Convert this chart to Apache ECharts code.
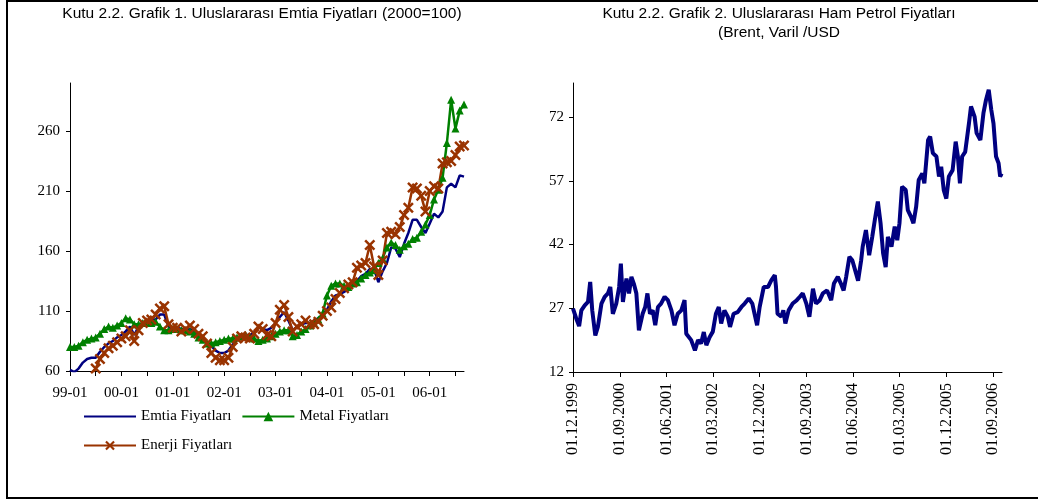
<!DOCTYPE html>
<html>
<head>
<meta charset="utf-8">
<title>Kutu 2.2</title>
<script src="https://cdn.jsdelivr.net/npm/echarts@6/dist/echarts.min.js"></script>
<style>
  html, body { margin: 0; padding: 0; background: #fff; }
  #chart { width: 1038px; height: 501px; }
</style>
</head>
<body>
<div id="chart"></div>
<script>
// Grafik 1: aylik endeksler (2000=100), 1999-01 .. 2006-09
const months = [
  '1999-01','1999-02','1999-03','1999-04','1999-05','1999-06','1999-07','1999-08','1999-09','1999-10','1999-11','1999-12',
  '2000-01','2000-02','2000-03','2000-04','2000-05','2000-06','2000-07','2000-08','2000-09','2000-10','2000-11','2000-12',
  '2001-01','2001-02','2001-03','2001-04','2001-05','2001-06','2001-07','2001-08','2001-09','2001-10','2001-11','2001-12',
  '2002-01','2002-02','2002-03','2002-04','2002-05','2002-06','2002-07','2002-08','2002-09','2002-10','2002-11','2002-12',
  '2003-01','2003-02','2003-03','2003-04','2003-05','2003-06','2003-07','2003-08','2003-09','2003-10','2003-11','2003-12',
  '2004-01','2004-02','2004-03','2004-04','2004-05','2004-06','2004-07','2004-08','2004-09','2004-10','2004-11','2004-12',
  '2005-01','2005-02','2005-03','2005-04','2005-05','2005-06','2005-07','2005-08','2005-09','2005-10','2005-11','2005-12',
  '2006-01','2006-02','2006-03','2006-04','2006-05','2006-06','2006-07','2006-08','2006-09'
]
const emtia = [
  61, 59, 62, 67, 70, 71, 71, 76, 80, 83,
  85, 88, 90, 93, 97, 90, 97, 100, 102, 103,
  103, 107, 107, 97, 95, 96, 95, 94, 95, 93,
  90, 87, 84, 81, 77, 75, 75, 77, 82, 86,
  88, 90, 90, 92, 97, 95, 94, 96, 100, 105,
  109, 102, 94, 97, 99, 100, 100, 102, 104, 107,
  111, 118, 123, 124, 126, 128, 133, 135, 139, 141,
  145, 145, 134, 143, 150, 163, 162, 155, 166, 175,
  186, 186, 180, 175, 183, 191, 188, 193, 213, 216,
  213, 223, 222
]
const metal = [
  80, 80, 81, 84, 86, 87, 88, 91, 95, 97,
  96, 98, 100, 104, 103, 99, 99, 100, 100, 100,
  101, 97, 94, 94, 95, 95, 94, 94, 93, 91,
  88, 86, 83, 83, 84, 85, 86, 87, 87, 88,
  89, 90, 88, 87, 85, 86, 87, 89, 91, 93,
  94, 94, 89, 90, 93, 95, 98, 100, 103, 108,
  123, 131, 133, 133, 131, 130, 133, 134, 137, 140,
  142, 144, 150, 154, 163, 167, 165, 161, 164, 166,
  170, 171, 176, 182, 190, 203, 211, 221, 250, 286,
  262, 277, 282
]
const enerji = [
  42, 45, 50, 55, 57, 57, 62, 70, 75, 79,
  81, 84, 87, 89, 94, 85, 94, 100, 102, 103,
  107, 112, 114, 99, 96, 96, 93, 95, 98, 95,
  91, 89, 83, 75, 71, 69, 69, 71, 80, 87,
  89, 88, 87, 91, 97, 95, 90, 89, 100, 111,
  115, 105, 93, 97, 99, 102, 99, 99, 101, 106,
  110, 113, 120, 125, 129, 132, 134, 146, 148, 150,
  165, 147, 140, 152, 175, 176, 174, 180, 190, 196,
  213, 212, 206, 193, 210, 214, 212, 233, 234, 235,
  240, 247, 248
]
const leftTicks = [60, 110, 160, 210, 260]

// Grafik 2: Brent, varil/USD
const brentDates = [
  '1999-12-01','1999-12-20','2000-01-06','2000-01-19','2000-02-08','2000-02-27','2000-03-11','2000-03-23','2000-04-10','2000-04-25',
  '2000-05-16','2000-06-04','2000-06-23','2000-07-07','2000-07-22','2000-08-11','2000-08-28','2000-09-07','2000-09-19','2000-10-10',
  '2000-10-25','2000-11-08','2000-11-22','2000-12-07','2000-12-22','2001-01-13','2001-01-28','2001-02-10','2001-02-25','2001-03-13',
  '2001-03-28','2001-04-13','2001-05-01','2001-05-22','2001-06-10','2001-07-01','2001-07-19','2001-08-07','2001-08-28','2001-09-16',
  '2001-09-26','2001-10-25','2001-11-16','2001-12-04','2001-12-22','2002-01-07','2002-01-22','2002-02-10','2002-03-01','2002-03-19',
  '2002-04-05','2002-04-19','2002-05-08','2002-05-28','2002-06-10','2002-07-01','2002-07-25','2002-08-16','2002-09-04','2002-09-28',
  '2002-10-19','2002-11-01','2002-11-16','2002-12-01','2002-12-25','2003-01-19','2003-02-08','2003-02-28','2003-03-07','2003-03-16',
  '2003-04-07','2003-04-19','2003-05-01','2003-05-20','2003-06-13','2003-07-07','2003-07-25','2003-08-11','2003-09-01','2003-09-19',
  '2003-10-10','2003-10-28','2003-11-19','2003-12-07','2004-01-01','2004-01-25','2004-02-10','2004-03-04','2004-03-22','2004-04-07',
  '2004-04-22','2004-05-11','2004-05-28','2004-06-19','2004-07-01','2004-07-19','2004-07-28','2004-08-16','2004-09-04','2004-09-22',
  '2004-10-07','2004-10-25','2004-11-10','2004-11-25','2004-12-10','2004-12-23','2005-01-13','2005-02-01','2005-02-16','2005-03-01',
  '2005-03-16','2005-04-07','2005-04-19','2005-05-08','2005-05-22','2005-06-07','2005-06-22','2005-07-13','2005-07-25','2005-08-16',
  '2005-08-28','2005-09-13','2005-10-04','2005-10-19','2005-11-01','2005-11-16','2005-12-01','2005-12-16','2006-01-07','2006-01-25',
  '2006-02-07','2006-02-19','2006-03-04','2006-03-22','2006-04-13','2006-04-25','2006-05-16','2006-05-28','2006-06-19','2006-07-07',
  '2006-07-22','2006-08-07','2006-08-22','2006-09-04','2006-09-19','2006-10-04','2006-10-13','2006-10-22'
]
const brent = [
  26.9, 24.6, 22.8, 26.5, 27.7, 28.5, 33.2, 26.5, 20.6, 22.6,
  28.1, 29.7, 30.5, 32.0, 25.7, 28.1, 32.0, 37.5, 28.5, 34.0,
  30.5, 34.4, 32.8, 30.5, 21.8, 25.7, 27.3, 30.5, 25.7, 26.5,
  23.0, 27.3, 28.1, 29.7, 28.9, 26.5, 23.0, 25.7, 26.5, 28.9,
  21.0, 19.5, 17.1, 19.5, 18.7, 21.4, 18.3, 20.2, 21.5, 25.7,
  27.3, 23.4, 26.5, 25.0, 22.6, 25.7, 26.1, 27.3, 28.1, 29.3,
  28.1, 25.7, 23.0, 27.3, 32.0, 32.0, 33.6, 34.8, 32.0, 25.7,
  25.0, 26.5, 23.4, 26.5, 28.1, 28.9, 29.7, 30.5, 28.1, 25.0,
  31.6, 28.1, 28.9, 30.5, 31.2, 28.9, 32.8, 34.4, 32.8, 31.2,
  34.4, 39.1, 38.3, 35.2, 33.5, 38.3, 41.5, 45.4, 39.5, 43.8,
  47.7, 52.1, 47.0, 39.9, 36.7, 43.8, 41.5, 46.2, 43.0, 47.0,
  55.6, 54.8, 50.1, 48.5, 47.0, 50.9, 57.2, 58.7, 56.4, 66.6,
  67.4, 63.5, 62.7, 58.0, 60.3, 54.8, 52.8, 58.0, 59.5, 66.2,
  62.7, 56.4, 62.7, 63.8, 70.5, 74.5, 72.1, 68.2, 66.6, 72.9,
  76.0, 78.4, 73.7, 70.5, 62.7, 61.1, 58.0, 58.7
]
const brentTickDates = ['1999-12-01','2000-09-01','2001-06-01','2002-03-01','2002-12-01',
  '2003-09-01','2004-06-01','2005-03-01','2005-12-01','2006-09-01']
const brentStart = '1999-12-01'
const brentEnd = '2006-10-24'
const rightTicks = [12, 27, 42, 57, 72]

const serif = '"Liberation Serif", "Times New Roman", serif'
const sans = '"Liberation Sans", Arial, sans-serif'
const crossPath = 'path://M0,1.6L1.6,0L5,3.4L8.4,0L10,1.6L6.6,5L10,8.4L8.4,10L5,6.6L1.6,10L0,8.4L3.4,5Z'

// dates as UTC milliseconds for the value axis of Grafik 2
const ms = d => Date.parse(d + 'T00:00:00Z')
const pad = n => (n < 10 ? '0' : '') + n
const dateLabel = v => {
  const d = new Date(v)
  return pad(d.getUTCDate()) + '.' + pad(d.getUTCMonth() + 1) + '.' + d.getUTCFullYear()
}

const axisText = { color: '#000', fontFamily: serif, fontSize: 15 }
const axisLine = { show: true, lineStyle: { color: '#000', width: 1 } }
const legendText = { color: '#000', fontFamily: serif, fontSize: 15 }

const chart = echarts.init(document.getElementById('chart'))
chart.setOption({
  backgroundColor: '#fff',
  animation: false,
  graphic: [
    { type: 'rect', shape: { x: 7, y: 1, width: 1040, height: 497 },
      style: { fill: 'none', stroke: '#000', lineWidth: 2 } },
    { type: 'text', style: { x: 262, y: 14, text: 'Kutu 2.2. Grafik 1. Uluslararası Emtia Fiyatları (2000=100)',
      align: 'center', verticalAlign: 'middle', font: '15.5px ' + sans, fill: '#000' } },
    { type: 'text', style: { x: 779, y: 14, text: 'Kutu 2.2. Grafik 2. Uluslararası Ham Petrol Fiyatları',
      align: 'center', verticalAlign: 'middle', font: '15.5px ' + sans, fill: '#000' } },
    { type: 'text', style: { x: 779, y: 33, text: '(Brent, Varil /USD',
      align: 'center', verticalAlign: 'middle', font: '15.5px ' + sans, fill: '#000' } }
  ],
  legend: [
    { data: [{ name: 'Emtia Fiyatları', itemStyle: { opacity: 0 } }, 'Metal Fiyatları'],
      left: 78, top: 404, itemWidth: 52, itemHeight: 12, itemGap: 10, textStyle: legendText },
    { data: ['Enerji Fiyatları'], left: 78, top: 433, itemWidth: 52, itemHeight: 12,
      textStyle: legendText }
  ],
  grid: [
    { left: 70, top: 83, width: 394, height: 288 },
    { left: 573, top: 83, width: 429, height: 289 }
  ],
  xAxis: [
    { type: 'category', gridIndex: 0, data: months, boundaryGap: false,
      axisLine: axisLine,
      axisTick: { interval: 5, length: 5, lineStyle: { color: '#000' } },
      axisLabel: Object.assign({ interval: 11, margin: 15, formatter: v => v.slice(2) }, axisText),
      splitLine: { show: false } },
    { type: 'value', gridIndex: 1, min: ms(brentStart), max: ms(brentEnd),
      axisLine: axisLine,
      axisTick: { customValues: brentTickDates.map(ms), length: 5, lineStyle: { color: '#000' } },
      axisLabel: Object.assign({}, axisText, { customValues: brentTickDates.map(ms), rotate: 90, margin: 11,
        fontSize: 16, formatter: dateLabel }),
      splitLine: { show: false } }
  ],
  yAxis: [
    { type: 'value', gridIndex: 0, min: 60, max: 300, interval: 50,
      axisLine: axisLine,
      axisTick: { show: true, customValues: leftTicks, length: 4, lineStyle: { color: '#000' } },
      axisLabel: Object.assign({ customValues: leftTicks, margin: 10 }, axisText),
      splitLine: { show: false } },
    { type: 'value', gridIndex: 1, min: 12, max: 80, interval: 15,
      axisLine: axisLine,
      axisTick: { show: true, customValues: rightTicks, length: 4, lineStyle: { color: '#000' } },
      axisLabel: Object.assign({ customValues: rightTicks, margin: 9 }, axisText),
      splitLine: { show: false } }
  ],
  series: [
    { name: 'Emtia Fiyatları', type: 'line', xAxisIndex: 0, yAxisIndex: 0, data: emtia,
      symbol: 'none', color: '#000080', lineStyle: { width: 2.5, color: '#000080' } },
    { name: 'Metal Fiyatları', type: 'line', xAxisIndex: 0, yAxisIndex: 0, data: metal,
      symbol: 'triangle', symbolSize: 8, showAllSymbol: true, color: '#008000',
      itemStyle: { color: '#008000' }, lineStyle: { width: 2.5, color: '#008000' } },
    { name: 'Enerji Fiyatları', type: 'line', xAxisIndex: 0, yAxisIndex: 0, data: enerji,
      symbol: crossPath, symbolSize: 11, showAllSymbol: true, color: '#993300',
      itemStyle: { color: '#993300' }, lineStyle: { width: 2.5, color: '#993300' } },
    { name: 'Brent', type: 'line', xAxisIndex: 1, yAxisIndex: 1,
      data: brentDates.map((d, i) => [ms(d), brent[i]]),
      showSymbol: false, lineStyle: { width: 4, color: '#000080' } }
  ]
})
</script>
</body>
</html>
